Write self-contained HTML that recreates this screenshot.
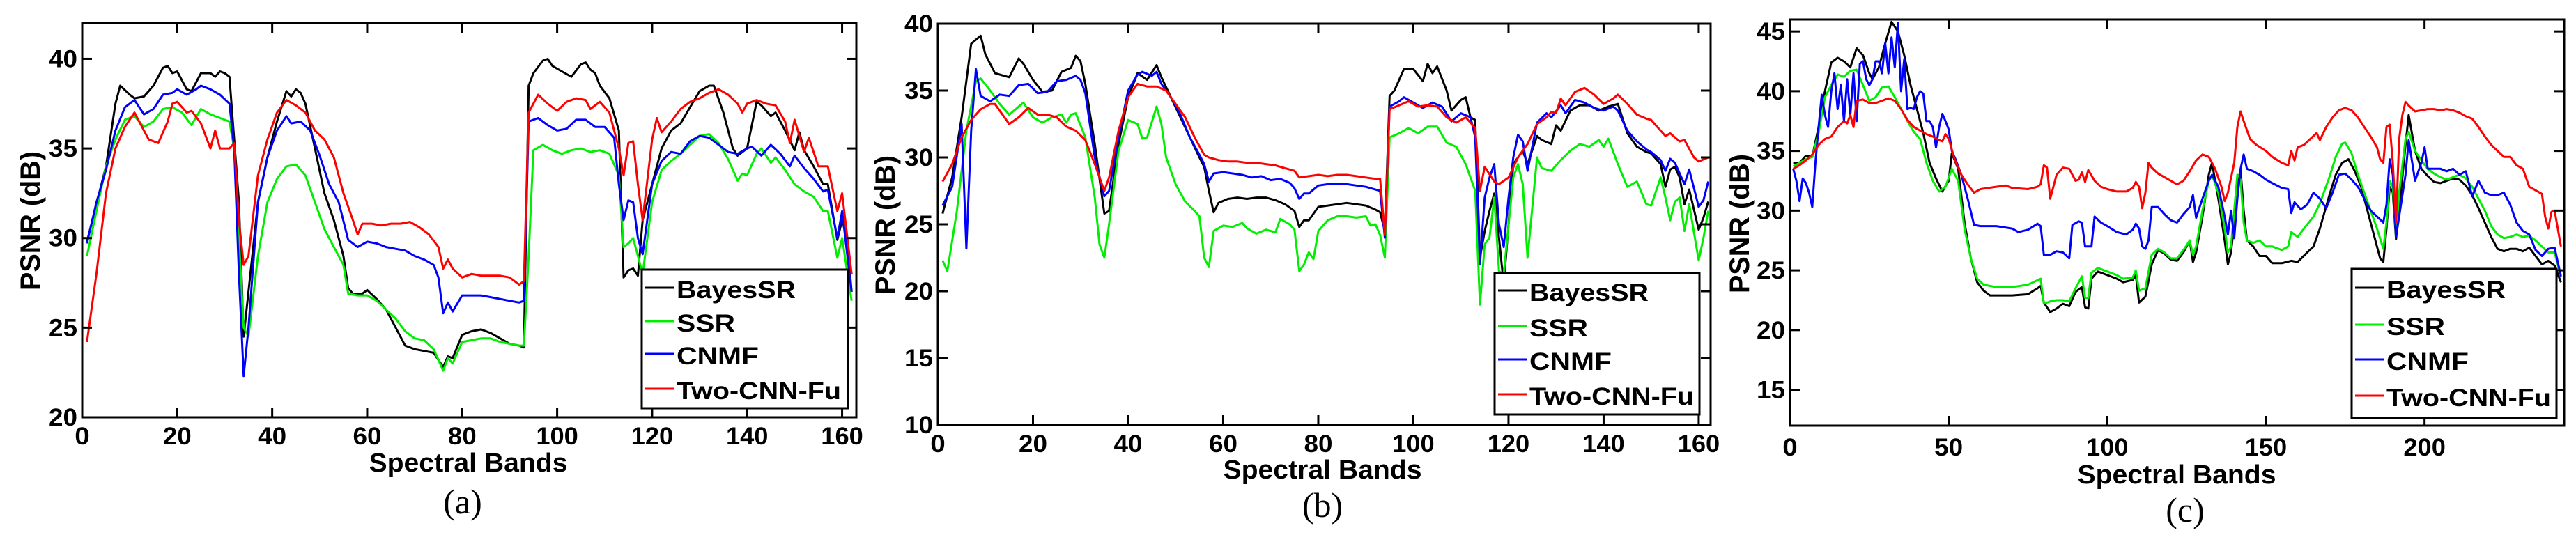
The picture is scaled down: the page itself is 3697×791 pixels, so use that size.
<!DOCTYPE html>
<html><head><meta charset="utf-8"><style>
html,body{margin:0;padding:0;background:#fff;}
svg text{font-family:"Liberation Sans",Arial,sans-serif;font-weight:bold;fill:#000;}
</style></head><body>
<svg id="fig" width="3697" height="786" viewBox="0 0 3697 786" xmlns="http://www.w3.org/2000/svg"></svg>
<script>
// ---------- data (band, PSNR dB) ----------
const seriesNames = ["BayesSR","SSR","CNMF","Two-CNN-Fu"];
const seriesColors = ["#000000","#00ee00","#0000ff","#ff0000"];
const xTicksAB = [0,20,40,60,80,100,120,140,160];
const xTicksC = [0,50,100,150,200];
const yTicksA = [20,25,30,35,40];
const yTicksB = [10,15,20,25,30,35,40];
const yTicksC = [15,20,25,30,35,40,45];

const aBayesSR = [[1,29.8],[5,34],[7,37.5],[8,38.5],[10,38],[11,37.8],[13,37.9],[15,38.5],[17,39.5],[18,39.6],[19,39.2],[20,39.3],[22,38.3],[23,38.2],[25,39.2],[27,39.2],[28,39.0],[29,39.3],[30,39.2],[31,39.0],[33,32],[34,24.5],[35,27],[37,32],[39,34.5],[41,36.5],[43,38.2],[44,37.9],[45,38.3],[46,38.1],[47,37.5],[49,35],[51,32.5],[53,31],[55,29],[56,27.2],[57,26.9],[59,26.9],[60,27.1],[62,26.6],[64,26],[66,25],[68,24],[70,23.8],[72,23.7],[74,23.6],[76,22.8],[77,23.4],[78,23.3],[80,24.6],[82,24.8],[84,24.9],[86,24.7],[88,24.4],[90,24.1],[92,24.0],[93,23.9],[94,38.5],[95,39.2],[97,39.9],[98,40],[99,39.6],[101,39.3],[103,39],[105,39.7],[106,39.8],[107,39.4],[108,39.2],[109,38.5],[111,37.8],[113,36],[114,27.8],[115,28.2],[116,28.3],[117,27.9],[118,31],[120,33],[122,35],[124,36],[126,36.4],[128,37.3],[130,38.2],[132,38.5],[133,38.5],[135,37],[137,35],[138,34.6],[140,35],[142,37.6],[143,37.4],[145,36.8],[146,37],[148,36],[150,34.9],[151,35.9],[152,34.9],[154,34],[156,33],[157,33],[159,29.9],[160,31],[161,30],[162,27]];
const aSSR = [[1,29],[3,31.5],[5,34],[7,35.5],[9,36.6],[11,36.8],[13,36.2],[15,36.5],[17,37.2],[19,37.3],[21,37],[23,36.3],[25,37.2],[27,36.9],[29,36.7],[31,36.5],[32,35],[33,30],[34,25],[35,24.5],[37,29],[39,32],[41,33.3],[43,34],[45,34.1],[47,33.5],[49,32],[51,30.5],[53,29.5],[55,28.5],[56,26.9],[58,26.8],[60,26.8],[62,26.5],[64,26],[66,25.5],[68,24.8],[70,24.4],[72,24.3],[74,23.8],[76,22.6],[77,23.3],[78,23],[80,24.2],[82,24.3],[84,24.4],[86,24.4],[88,24.2],[90,24.1],[92,24.0],[93,24.0],[94,29],[95,34.9],[97,35.2],[99,34.9],[101,34.7],[103,34.9],[105,35.0],[107,34.8],[109,34.9],[111,34.7],[113,33.5],[114,29.5],[115,29.7],[116,30],[117,29],[118,28],[120,32],[122,33.8],[124,34.3],[126,34.7],[128,35.2],[130,35.7],[132,35.8],[134,35.3],[136,34.4],[138,33.2],[139,33.6],[140,33.5],[142,34.7],[143,35],[145,34.2],[146,34.5],[148,33.8],[150,33],[152,32.6],[154,32.3],[156,31.5],[157,31.5],[159,28.9],[160,30],[162,26.5]];
const aCNMF = [[1,29.7],[3,32],[5,33.8],[7,36],[9,37.3],[11,37.7],[13,36.9],[15,37.2],[17,38.0],[19,38.1],[20,38.3],[22,38.0],[24,38.3],[25,38.5],[27,38.3],[29,38.0],[31,37.5],[32,35],[33,28],[34,22.3],[35,25],[37,32],[39,34.5],[41,36],[43,36.8],[44,36.4],[46,36.5],[48,36],[50,34.6],[52,33],[54,32],[56,29.9],[57,29.7],[58,29.5],[60,29.8],[62,29.7],[64,29.5],[66,29.4],[68,29.3],[70,29.0],[72,28.8],[74,28.5],[75,27.8],[76,25.8],[77,26.4],[78,25.9],[80,26.8],[82,26.8],[84,26.8],[86,26.7],[88,26.6],[90,26.5],[92,26.4],[93,26.5],[94,36.5],[96,36.7],[98,36.3],[100,36.0],[102,36.1],[104,36.6],[106,36.6],[108,36.2],[110,36.2],[112,35.6],[113,33],[114,31],[115,32.1],[116,32],[117,30],[118,29.1],[120,33],[122,34.3],[124,34.8],[126,34.7],[128,35.4],[130,35.7],[132,35.6],[134,35.2],[136,34.8],[138,34.7],[140,35],[141,35.1],[143,34.6],[145,35.2],[147,34.7],[149,34.0],[150,34.6],[152,33.9],[154,33.3],[156,32.6],[157,32.7],[159,30],[160,31.5],[162,27]];
const aTwoCNN = [[1,24.2],[3,28],[5,32.5],[7,35],[9,36.2],[11,37.0],[13,36],[14,35.5],[16,35.3],[18,36.5],[19,37.5],[20,37.6],[22,37.0],[23,37.1],[25,36.4],[27,35],[28,36],[29,35],[31,35],[32,35.3],[33,31],[34,28.5],[35,29],[37,33.5],[39,35.5],[41,37],[43,37.7],[45,37.4],[47,37],[49,36],[51,35.5],[53,34.5],[55,32.5],[57,31],[58,30.2],[59,30.8],[61,30.8],[63,30.7],[65,30.8],[67,30.8],[69,30.9],[71,30.6],[73,30.2],[75,29.5],[76,28.3],[77,28.8],[78,28.3],[80,27.8],[82,28.0],[84,27.9],[86,27.9],[88,27.9],[90,27.8],[92,27.4],[93,27.6],[94,37.0],[96,38.0],[98,37.5],[100,37.1],[102,37.6],[104,37.8],[106,37.7],[107,37.2],[109,37.6],[111,37],[113,35],[114,33.5],[115,35.3],[116,35.4],[117,33],[118,31],[120,35.5],[121,36.7],[122,35.9],[124,36.5],[126,37.2],[128,37.6],[130,37.8],[132,38.1],[134,38.3],[136,38.0],[138,37.5],[139,37.0],[140,37.5],[142,37.7],[144,37.5],[146,37.4],[148,36.5],[149,35.3],[150,36.6],[152,34.8],[153,35.6],[155,34.0],[157,34.0],[159,31.5],[160,32.5],[162,28]];

const bBayesSR = [[1,25.8],[3,28.5],[5,33],[7,38.5],[9,39.1],[10,37.7],[12,36.3],[14,36.1],[15,36.0],[17,37.4],[18,37.0],[20,35.8],[22,34.9],[24,35.0],[26,36.4],[28,36.7],[29,37.6],[30,37.2],[31,35.5],[33,31],[35,25.8],[36,26],[38,31],[40,34.5],[42,36.3],[44,35.8],[46,36.9],[47,36],[49,34.5],[51,33],[53,31.5],[55,30],[56,29.3],[57,27.5],[58,25.9],[59,26.6],[61,26.9],[63,27.0],[65,26.9],[67,27.0],[69,27.0],[71,26.8],[73,26.5],[75,26.0],[76,24.8],[77,25.3],[78,25.3],[80,26.3],[82,26.4],[84,26.5],[86,26.6],[88,26.5],[90,26.4],[92,26.1],[93,25.9],[94,24.5],[95,34.6],[96,35],[98,36.6],[100,36.6],[102,35.7],[103,37],[104,36.3],[105,36.8],[107,35],[108,33.5],[110,34.3],[111,34.5],[112,33],[113,32.8],[114,22.5],[115,24.5],[116,26],[117,27.3],[118,24],[119,20.5],[120,25],[121,29.5],[123,30.5],[124,29.5],[126,31.6],[127,31.3],[129,31.0],[130,32.4],[131,32],[133,33.5],[135,33.9],[137,33.9],[139,33.5],[141,33.8],[143,34.0],[145,31.8],[147,30.8],[149,30.4],[150,30.3],[152,29.5],[153,27.8],[154,29.1],[155,29.3],[156,28.5],[157,26.5],[158,27.6],[160,24.6],[161,25.5],[162,26.7]];
const bSSR = [[1,22.3],[2,21.5],[4,26],[6,32],[8,35.7],[9,35.9],[11,35],[13,34],[15,33.2],[17,33.8],[18,34.1],[20,33],[22,32.6],[24,33],[26,33.2],[27,32.6],[28,33.2],[29,33.3],[31,31.5],[33,27],[34,23.5],[35,22.5],[36,25],[38,30.5],[40,32.8],[42,32.5],[43,31.4],[44,31.5],[46,33.8],[47,32.5],[48,30],[50,28],[52,26.7],[54,26],[55,25.6],[56,22.5],[57,21.8],[58,24.5],[60,24.9],[62,24.8],[64,25.1],[65,24.7],[67,24.3],[69,24.6],[71,24.4],[72,25.4],[74,25.0],[75,24.6],[76,21.5],[77,22],[78,22.9],[79,22.4],[80,24.5],[82,25.3],[84,25.6],[86,25.6],[88,25.5],[90,25.6],[91,24.9],[92,25],[93,24.2],[94,22.5],[95,31.5],[97,31.8],[99,32.2],[101,31.8],[103,32.3],[105,32.3],[107,31.1],[109,30.8],[111,29.5],[113,27.5],[114,19],[115,23.5],[116,24],[117,27],[118,21.5],[119,21.3],[121,28.5],[122,29.5],[123,28],[124,22.5],[126,30],[127,29.2],[129,29],[131,29.8],[133,30.5],[135,31],[137,30.8],[139,31.3],[140,30.8],[141,31.4],[143,29.5],[145,27.8],[147,28.2],[149,26.5],[150,26.4],[152,28.5],[153,27],[154,25.3],[155,26.7],[156,27],[157,24.5],[158,26.5],[160,22.3],[161,24],[162,26]];
const bCNMF = [[1,26.4],[3,27.8],[5,32.5],[6,23.2],[7,32],[8,36.6],[9,34.6],[11,34.2],[13,34.7],[15,34.6],[17,35.4],[19,35.5],[21,34.8],[23,34.9],[25,35.7],[27,35.8],[29,36.1],[30,35.8],[31,34.8],[33,30],[35,27.1],[36,27.5],[38,31.5],[40,35],[42,36.2],[43,36.4],[45,36.1],[46,36.4],[47,35.5],[49,34.5],[51,33.2],[53,31.5],[55,30.2],[56,29.5],[57,28.2],[58,28.8],[60,28.9],[62,28.8],[64,28.7],[66,28.5],[68,28.6],[70,28.3],[72,28.4],[74,28.1],[75,27.7],[76,26.9],[77,27.3],[78,27.3],[80,27.9],[82,28.0],[84,28.0],[86,28.0],[88,27.9],[90,27.8],[92,27.6],[93,27.5],[94,24],[95,33.8],[97,34.2],[98,34.5],[100,34.1],[102,33.7],[104,34.1],[106,33.8],[108,32.7],[110,33.3],[112,33.0],[113,31.5],[114,22],[115,27],[116,28.5],[117,29.5],[118,25],[119,23.3],[120,27],[121,30],[122,31.7],[123,31.2],[124,29],[126,32.6],[128,33.3],[129,33.0],[131,33.9],[132,33.3],[134,34.3],[136,34.1],[138,33.7],[140,33.5],[142,33.8],[143,33.5],[145,32],[147,31.2],[149,30.6],[150,30.4],[152,29.8],[153,29.0],[154,29.9],[155,29.6],[157,28.0],[158,29.1],[160,26.3],[161,26.8],[162,28.2]];
const bTwoCNN = [[1,28.2],[3,29.5],[5,31.5],[7,32.8],[9,33.6],[11,34.0],[12,34.0],[14,33.0],[15,32.5],[17,33.0],[19,33.7],[21,33.2],[23,33.2],[25,33.0],[27,32.3],[29,32.0],[31,31.3],[33,29.5],[35,27.5],[36,28.5],[38,32],[40,34.5],[42,35.5],[44,35.3],[46,35.3],[48,35.0],[50,34],[52,33],[54,31.5],[56,30.2],[57,30],[59,29.8],[61,29.7],[63,29.7],[65,29.6],[67,29.6],[69,29.5],[71,29.4],[73,29.2],[75,29.0],[76,28.5],[78,28.6],[80,28.7],[82,28.6],[84,28.7],[86,28.7],[88,28.6],[90,28.5],[92,28.4],[93,28.4],[94,24.2],[95,33.6],[97,33.9],[99,34.2],[101,33.8],[103,33.9],[105,33.8],[107,33.0],[109,32.6],[111,33.0],[113,32.2],[114,27.5],[115,29.3],[117,28.2],[118,28.0],[120,28.5],[122,30],[124,31],[126,32.5],[128,33.0],[129,33.4],[130,33.3],[131,34.4],[132,33.9],[134,34.9],[136,35.2],[138,34.7],[140,34.0],[142,34.4],[143,34.7],[145,34.0],[147,33.2],[149,32.9],[150,32.8],[152,32.0],[153,31.6],[154,31.8],[156,31.2],[157,31.3],[159,30.0],[160,29.7],[162,30.0]];

const cBayesSR = [[1,34],[3,34],[5,34.6],[7,34.5],[9,37],[11,40],[13,42.4],[15,42.8],[17,42.5],[19,42.0],[21,43.6],[23,43.0],[25,41.5],[26,41],[28,42],[30,44],[32,45.8],[34,45],[36,43],[38,40.5],[40,38.5],[42,36.5],[44,34],[46,32.7],[48,31.6],[50,32.5],[51,34.8],[53,33.5],[55,29],[57,26],[59,24],[61,23.3],[63,22.9],[65,22.9],[70,22.9],[75,23.0],[78,23.5],[79,23.7],[80,22.3],[82,21.5],[84,21.8],[86,22.2],[88,22],[90,23.2],[92,23.6],[93,21.9],[94,21.8],[95,24.3],[97,24.9],[100,24.6],[103,24.3],[105,24.0],[108,24.2],[109,24.6],[110,22.3],[112,22.8],[114,25.5],[116,26.7],[118,26.4],[120,25.9],[122,25.8],[124,26.5],[126,27.5],[127,25.7],[128,26.5],[130,29.5],[132,33],[133,34],[135,31],[137,27.5],[138,25.5],[139,26.5],[140,29],[141,32.2],[142,33.4],[143,30],[144,27.5],[146,27],[148,26.2],[150,26.2],[152,25.6],[155,25.6],[158,25.8],[160,25.7],[163,26.5],[165,27],[167,28.5],[170,31.3],[172,33],[174,34.0],[176,34.3],[178,33.3],[180,32],[182,30],[184,28],[186,26],[187,25.7],[188,28.5],[189,32],[190,31.5],[191,27.6],[192,30],[194,35.5],[195,38],[197,35],[199,33.5],[201,32.9],[203,32.4],[205,32.3],[207,32.5],[209,32.7],[211,32.6],[213,32.1],[215,31.3],[217,30.2],[219,29],[221,27.8],[223,26.8],[225,26.6],[227,26.8],[229,26.8],[231,26.6],[233,26.9],[235,26.2],[237,25.5],[239,25.8],[241,25.4],[243,24]];
const cSSR = [[1,33.7],[3,34],[5,34.3],[7,34.5],[9,36.5],[11,39.5],[13,40.5],[15,41.4],[17,41.2],[19,41.7],[21,41.8],[23,40.5],[25,39.2],[27,39.5],[29,40.3],[31,40.4],[33,39.5],[35,38.5],[37,37.5],[39,36.6],[41,36],[43,34],[45,32.5],[47,31.6],[49,32.0],[51,33.5],[53,32.5],[55,28.5],[57,26],[59,24.3],[61,23.8],[65,23.6],[70,23.6],[75,23.8],[79,24.3],[80,22.2],[82,22.4],[84,22.5],[86,22.5],[88,22.4],[90,23.5],[92,24.5],[93,22.7],[94,22.7],[95,24.8],[97,25.2],[100,24.9],[103,24.6],[105,24.3],[108,24.4],[109,25],[110,23.3],[112,23.5],[114,26.3],[116,26.8],[118,26.5],[120,26.0],[122,26.0],[124,26.7],[126,27.5],[127,26.3],[128,27],[130,30],[132,32.5],[133,33],[135,31.5],[137,28.5],[138,26.5],[139,27],[140,30],[141,33],[142,32.6],[143,29],[144,27.5],[146,27.3],[148,27.5],[150,27.0],[152,27.0],[155,26.7],[157,27],[158,28.2],[160,27.8],[162,28.5],[165,29.5],[167,30.6],[170,32.8],[172,34.5],[174,35.6],[175,35.7],[177,34.8],[179,33],[181,31.5],[183,30],[185,28.5],[187,26.8],[188,29],[189,32.5],[190,32],[191,28],[192,31.5],[194,36],[195,36.6],[197,35],[199,34.2],[201,33.5],[203,33.1],[205,32.8],[207,32.6],[209,32.8],[211,33.0],[213,32.7],[215,32.0],[217,31],[219,30],[221,28.7],[223,28.0],[225,27.7],[227,27.8],[229,28.0],[231,27.8],[233,27.9],[235,27.5],[237,27],[239,26.5],[241,26.5],[243,24.5]];
const cCNMF = [[1,33.5],[2,32.5],[3,30.8],[4,32.7],[5,32.3],[6,31.5],[7,30.3],[8,34],[9,37],[10,39.7],[11,38],[12,37],[13,40],[14,41.5],[15,38.5],[16,40.5],[17,37.5],[18,41],[19,38],[20,41.5],[21,37.5],[22,42.3],[23,42.5],[24,41],[25,40.5],[26,41],[27,42.5],[28,42.5],[29,41.5],[30,44],[31,41.5],[32,44.5],[33,42],[34,45.7],[35,40],[36,42.7],[37,38.5],[38,38.6],[39,38.5],[40,39.5],[41,40],[42,39.8],[43,37.5],[44,37.5],[45,37],[46,35.3],[47,37],[48,38.1],[49,37.5],[50,36.8],[51,35],[52,34.4],[54,33],[56,31],[58,28.8],[60,28.7],[65,28.7],[70,28.5],[72,28.2],[75,28.4],[78,28.9],[79,28.7],[80,26.3],[82,26.3],[84,26.6],[86,26.5],[88,26.0],[89,28.8],[91,29.1],[92,29],[93,27.0],[95,27.0],[96,29.5],[98,29],[100,28.7],[103,28.2],[106,28.0],[108,28.4],[109,28.9],[110,28.5],[111,27],[112,26.8],[113,27.5],[114,30.3],[116,30.3],[118,29.7],[120,29.2],[122,29.0],[124,29.7],[126,30.3],[127,31.3],[128,29.4],[130,31],[132,32.5],[133,33],[135,32],[137,29.5],[138,28],[139,30],[140,27.7],[141,31],[142,33.5],[143,34.7],[144,33.5],[146,33.3],[148,33.0],[150,32.6],[152,32.3],[155,31.9],[157,31.8],[158,29.8],[159,30.7],[161,30.1],[163,30.5],[165,31.5],[167,31],[169,30.2],[171,31.5],[173,33.0],[175,33.1],[177,32.6],[179,32.0],[181,31],[183,30],[185,29.5],[187,29.0],[188,30.5],[189,34.3],[190,33],[191,27.8],[192,29.5],[194,33],[195,35.9],[197,32.5],[199,34],[200,35.3],[201,33.5],[203,33.5],[205,33.5],[207,33.3],[209,33.5],[211,33],[213,33.3],[215,31.2],[217,32.5],[219,31.5],[221,31.3],[223,31.3],[225,31.5],[227,30.5],[229,29],[231,28.3],[233,28.0],[235,26.7],[237,26.2],[239,26.8],[241,26.9],[243,24.5]];
const cTwoCNN = [[1,33.5],[3,33.8],[5,34.2],[7,34.7],[9,35.5],[11,36],[13,36.2],[15,37.0],[17,37.5],[18,37.3],[19,38],[20,37],[21,39.2],[23,39.3],[25,39.0],[27,39.0],[29,39.2],[31,39.4],[33,39.2],[35,38.5],[37,37.6],[39,37.0],[41,36.7],[43,36.4],[45,36.2],[47,35.9],[48,35.8],[49,36.4],[50,36.0],[52,34.2],[54,33.0],[56,32.2],[58,31.5],[60,31.8],[65,32.0],[68,32.1],[70,31.9],[75,31.8],[78,32],[79,32.2],[80,33.8],[81,33.6],[82,31.0],[84,33.0],[86,33.6],[88,33.5],[90,32.5],[91,32.6],[92,33.2],[93,32.4],[94,33.4],[96,32.5],[98,32.0],[100,31.8],[103,31.6],[106,31.6],[108,31.9],[109,32.4],[110,32.0],[111,30.2],[112,31.5],[113,34],[114,33.6],[116,33.1],[118,32.8],[120,32.5],[122,32.2],[124,32.5],[126,33.3],[128,34.2],[130,34.7],[132,34.5],[134,33.5],[136,32.0],[137,30.8],[138,31.5],[140,34],[141,37],[142,38.3],[143,37.5],[145,36],[147,35.5],[150,35.0],[152,34.5],[155,34.0],[157,33.8],[158,35],[159,34.2],[160,35.3],[162,35.5],[164,36],[166,36.5],[167,35.9],[169,37.0],[171,37.8],[173,38.4],[175,38.6],[177,38.4],[179,37.8],[181,37.0],[183,36.2],[185,35.3],[186,34.3],[187,34.0],[188,37],[189,37.2],[190,34],[191,29],[192,36],[193,38],[194,39.1],[195,38.8],[197,38.3],[199,38.4],[201,38.5],[203,38.5],[205,38.4],[207,38.5],[209,38.4],[211,38.2],[213,37.9],[215,37.7],[217,37.0],[219,36.2],[221,35.5],[223,35.0],[225,34.5],[227,34.5],[229,33.8],[231,33.5],[233,32.0],[235,31.7],[237,31.4],[238,29.5],[239,28.5],[240,29.9],[241,30.0],[243,27]];

// ---------- layout ----------
const panels = [
  {id:"a", series:[aBayesSR,aSSR,aCNMF,aTwoCNN], xt:xTicksAB, yt:yTicksA,
   L:118,R:1229,T:33,B:599, xmin:0,xmax:163,ymin:20,ymax:42,
   xlab:{x:672,y:677}, cap:{x:664,y:737}, ytitle:{x:43,y:317}, xtb:638,
   leg:{x:921,y:387,w:296,h:199, rows:[416,464,511,561]}},
  {id:"b", series:[bBayesSR,bSSR,bCNMF,bTwoCNN], xt:xTicksAB, yt:yTicksB,
   L:1346,R:2455,T:34,B:610, xmin:0,xmax:162.5,ymin:10,ymax:40,
   xlab:{x:1898,y:687}, cap:{x:1898,y:742}, ytitle:{x:1270,y:323}, xtb:649,
   leg:{x:2145,y:392,w:294,h:203, rows:[420,471,519,569]}},
  {id:"c", series:[cBayesSR,cSSR,cCNMF,cTwoCNN], xt:xTicksC, yt:yTicksC,
   L:2569,R:3680,T:28,B:611, xmin:0,xmax:244,ymin:12,ymax:46,
   xlab:{x:3124,y:694}, cap:{x:3136,y:749}, ytitle:{x:2496,y:321}, xtb:654,
   leg:{x:3375,y:386,w:294,h:214, rows:[416,469,519,571]}}
];
const NS="http://www.w3.org/2000/svg";
const svg=document.getElementById('fig');
function mk(tag,attrs,parent){const e=document.createElementNS(NS,tag);for(const k in attrs)e.setAttribute(k,attrs[k]);(parent||svg).appendChild(e);return e;}
function txtLen(s){return s.length*19.5;}

panels.forEach(p=>{
  const g=mk('g',{});
  
  
  const xs=v=>p.L+(v-p.xmin)/(p.xmax-p.xmin)*(p.R-p.L);
  const ys=v=>p.B-(v-p.ymin)/(p.ymax-p.ymin)*(p.B-p.T);
  const clipId='clip'+p.id;
  const cp=mk('clipPath',{id:clipId},g);
  mk('rect',{x:p.L,y:p.T,width:p.R-p.L,height:p.B-p.T},cp);
  // series
  p.series.forEach((s,i)=>{
    const d=s.map((pt,j)=>(j?'L':'M')+xs(pt[0]).toFixed(1)+' '+ys(pt[1]).toFixed(1)).join(' ');
    const path=mk('path',{d:d,fill:'none',stroke:seriesColors[i],'stroke-width':3,'stroke-linejoin':'round','clip-path':'url(#'+clipId+')'},g);
    
    
  });
  // ticks
  p.xt.forEach(t=>{
    const x=xs(t);
    mk('line',{x1:x,x2:x,y1:p.B,y2:p.B-14,stroke:'#000','stroke-width':3},g);
    mk('line',{x1:x,x2:x,y1:p.T,y2:p.T+14,stroke:'#000','stroke-width':3},g);
    const s=String(t);
    const tx=mk('text',{x:x,y:p.xtb,'font-size':35,'text-anchor':'middle',textLength:txtLen(s)+2,lengthAdjust:'spacingAndGlyphs'},g);
    tx.textContent=s;
    
    
  });
  p.yt.forEach(t=>{
    const y=ys(t);
    mk('line',{x1:p.L,x2:p.L+14,y1:y,y2:y,stroke:'#000','stroke-width':3},g);
    mk('line',{x1:p.R,x2:p.R-14,y1:y,y2:y,stroke:'#000','stroke-width':3},g);
    const s=String(t);
    const tx=mk('text',{x:p.L-7,y:y+12,'font-size':35,'text-anchor':'end',textLength:txtLen(s)+2,lengthAdjust:'spacingAndGlyphs'},g);
    tx.textContent=s;
    
    
  });
  const box=mk('rect',{x:p.L,y:p.T,width:p.R-p.L,height:p.B-p.T,fill:'none',stroke:'#000','stroke-width':3},g);
  
  
  // axis titles
  const xl=mk('text',{x:p.xlab.x,y:p.xlab.y,'font-size':38,'text-anchor':'middle',textLength:285,lengthAdjust:'spacingAndGlyphs'},g);
  xl.textContent='Spectral Bands';
  
  
  const yl=mk('text',{x:0,y:0,'font-size':40,'text-anchor':'middle',textLength:200,lengthAdjust:'spacingAndGlyphs',transform:'translate('+(p.ytitle.x+14)+','+p.ytitle.y+') rotate(-90)'},g);
  yl.textContent='PSNR (dB)';
  
  
  const cap=mk('text',{x:p.cap.x,y:p.cap.y,'font-size':50,'text-anchor':'middle',style:'font-family:"Liberation Serif",serif;font-weight:normal'},g);
  cap.textContent='('+p.id+')';
  
  
  // legend
  const lg=mk('g',{},g);
  
  
  mk('rect',{x:p.leg.x,y:p.leg.y,width:p.leg.w,height:p.leg.h,fill:'#fff',stroke:'#000','stroke-width':3},lg);
  p.leg.rows.forEach((ry,i)=>{
    const e=mk('g',{},lg);
    
    
    mk('line',{x1:p.leg.x+5,x2:p.leg.x+47,y1:ry-3,y2:ry-3,stroke:seriesColors[i],'stroke-width':3},e);
    const t=mk('text',{x:p.leg.x+50,y:ry+12,'font-size':35,textLength:[171,84,118,236][i],lengthAdjust:'spacingAndGlyphs'},e);
    t.textContent=seriesNames[i];
  });
});
</script>
</body></html>
